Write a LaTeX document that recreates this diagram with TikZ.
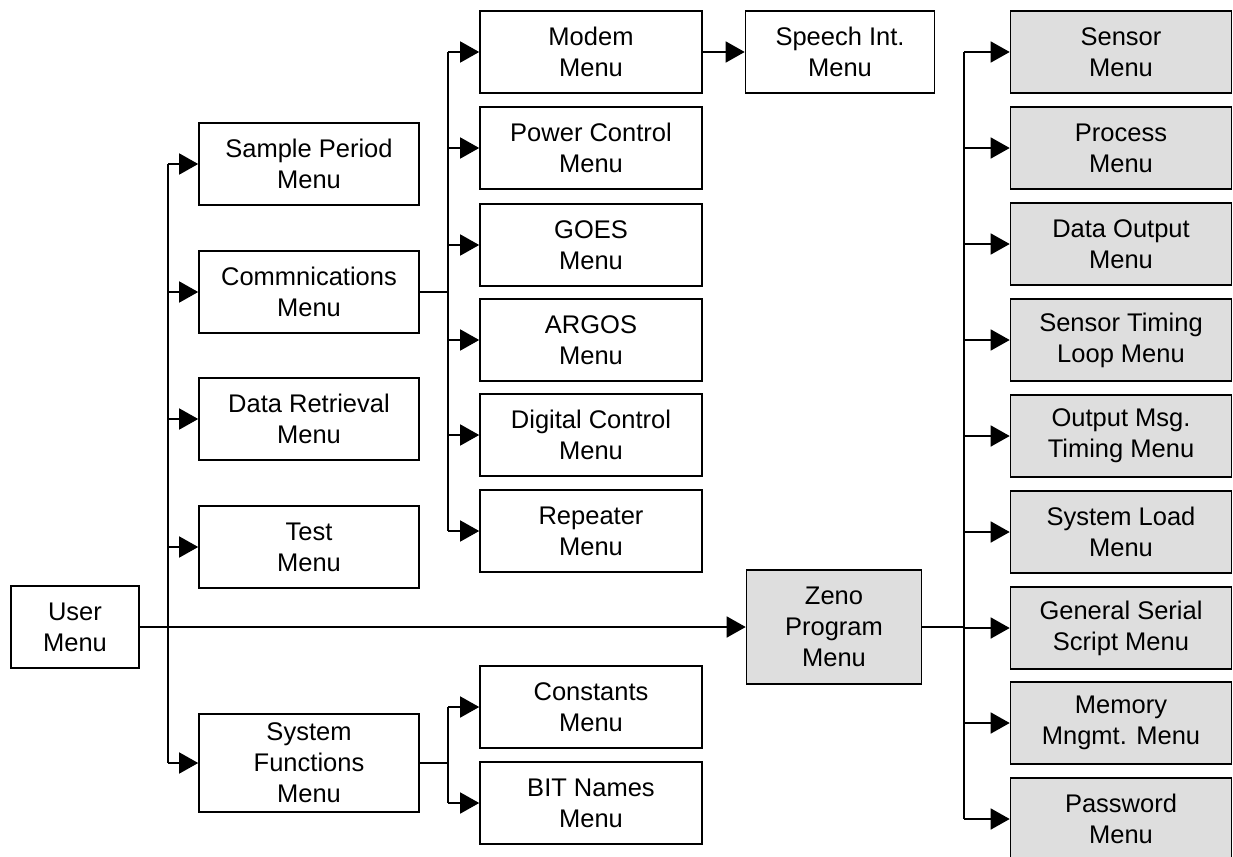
\documentclass[tikz,border=0pt]{standalone}
\usepackage{fontspec}
\setmainfont{Liberation Sans}
\usetikzlibrary{arrows.meta, positioning}
\definecolor{zenogray}{HTML}{DEDEDE}

\begin{document}
\begin{tikzpicture}[x=1pt, y=-1pt,
  menu/.style={draw, line width=1.6pt, minimum width=220pt, minimum height=82pt, inner sep=0pt, align=center, font=\fontsize{25.5}{31}\selectfont},
  zenomenu/.style={menu, fill=zenogray},
  link/.style={line width=1.5pt, -{Triangle[length=19pt, width=21pt]}},
  bus/.style={line width=2.4pt},
]
  \useasboundingbox (0,0) rectangle (1233,856);

  % Root
  \node[menu, minimum width=128pt] (user) at (75,627) {User\\Menu};

  % Second level
  \node[menu] (sample) at (309,164) {Sample Period\\Menu};
  \node[menu] (comm)   at (309,292) {Commnications\\Menu};
  \node[menu] (data)   at (309,419) {Data Retrieval\\Menu};
  \node[menu] (test)   at (309,547) {Test\\Menu};
  \node[menu, minimum height=98pt] (sysfun) at (309,763) {System\\Functions\\Menu};

  % Communications sub menus
  \node[menu, minimum width=222pt] (modem)    at (591,52)  {Modem\\Menu};
  \node[menu, minimum width=222pt] (power)    at (591,148) {Power Control\\Menu};
  \node[menu, minimum width=222pt] (goes)     at (591,245) {GOES\\Menu};
  \node[menu, minimum width=222pt] (argos)    at (591,340) {ARGOS\\Menu};
  \node[menu, minimum width=222pt] (digital)  at (591,435) {Digital Control\\Menu};
  \node[menu, minimum width=222pt] (repeater) at (591,531) {Repeater\\Menu};
  \node[menu, minimum width=189pt] (speech)   at (840,52)  {Speech Int.\\Menu};

  % System functions sub menus
  \node[menu, minimum width=222pt] (const) at (591,707) {Constants\\Menu};
  \node[menu, minimum width=222pt] (bit)   at (591,803) {BIT Names\\Menu};

  % Zeno program menu and its sub menus
  \node[zenomenu, minimum width=175pt, minimum height=114pt] (zeno) at (834,627) {Zeno\\Program\\Menu};
  \node[zenomenu, minimum width=221pt] (sensor)   at (1121,52)  {Sensor\\Menu};
  \node[zenomenu, minimum width=221pt] (process)  at (1121,148) {Process\\Menu};
  \node[zenomenu, minimum width=221pt] (dataout)  at (1121,244) {Data Output\\Menu};
  \node[zenomenu, minimum width=221pt] (timing)   at (1121,340) {Sensor Timing\\Loop Menu};
  \node[zenomenu, minimum width=221pt] (outmsg)   at (1121,436) {Output Msg.\\Timing Menu};
  \node[zenomenu, minimum width=221pt] (sysload)  at (1121,532) {System Load\\Menu};
  \node[zenomenu, minimum width=221pt] (serial)   at (1121,628) {General Serial\\Script Menu};
  \node[zenomenu, minimum width=221pt] (memory)   at (1121,723) {Memory\\Mngmt. Menu};
  \node[zenomenu, minimum width=221pt] (password) at (1121,819) {Password\\Menu};

  % Bus junctions
  \coordinate (userbus) at (168,627);
  \coordinate (commbus) at (448,292);
  \coordinate (sysbus)  at (448,763);
  \coordinate (zenobus) at (964,627);

  % User menu bus
  \draw[bus] (user.east) -- (userbus);
  \draw[bus] (userbus |- sample.west) -- (userbus |- sysfun.west);
  \foreach \m in {sample, comm, data, test, sysfun}
    \draw[link] (userbus |- \m.west) -- (\m.west);
  \draw[link] (user.east) -- (zeno.west);

  % Communications bus
  \draw[line width=1.5pt] (comm.east) -- (commbus);
  \draw[bus] (commbus |- modem.west) -- (commbus |- repeater.west);
  \foreach \m in {modem, power, goes, argos, digital, repeater}
    \draw[link] (commbus |- \m.west) -- (\m.west);
  \draw[link] (modem.east) -- (speech.west);

  % System functions bus
  \draw[bus] (sysfun.east) -- (sysbus);
  \draw[bus] (sysbus |- const.west) -- (sysbus |- bit.west);
  \foreach \m in {const, bit}
    \draw[link] (sysbus |- \m.west) -- (\m.west);

  % Zeno bus
  \draw[bus] (zeno.east) -- (zenobus);
  \draw[bus] (zenobus |- sensor.west) -- (zenobus |- password.west);
  \foreach \m in {sensor, process, dataout, timing, outmsg, sysload, serial, memory, password}
    \draw[link] (zenobus |- \m.west) -- (\m.west);
\end{tikzpicture}
\end{document}
